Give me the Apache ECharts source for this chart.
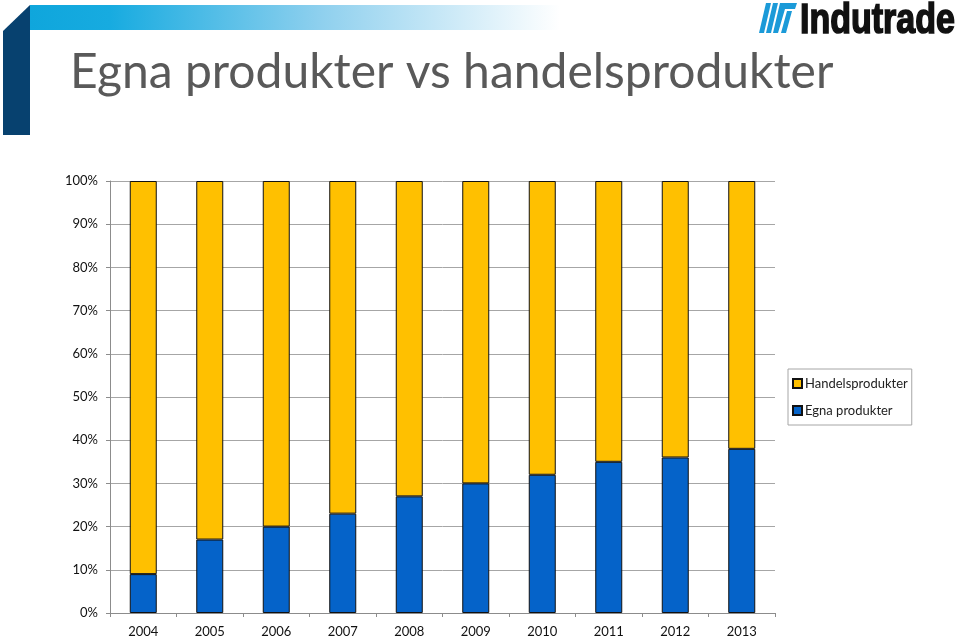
<!DOCTYPE html>
<html>
<head>
<meta charset="utf-8">
<script src="https://cdn.jsdelivr.net/npm/echarts@6/dist/echarts.min.js"></script>
<style>
  html, body { margin: 0; padding: 0; background: #fff; }
  #chart { width: 960px; height: 638px; }
</style>
</head>
<body>
<div id="chart"></div>
<script>
// data
var years = ["2004", "2005", "2006", "2007", "2008", "2009", "2010", "2011", "2012", "2013"];
var egnaProdukter = [9, 17, 20, 23, 27, 30, 32, 35, 36, 38];
var handelsProdukter = [91, 83, 80, 77, 73, 70, 68, 65, 64, 62];
var seriesNames = ["Handelsprodukter", "Egna produkter"];

var labelFont = "Lato, 'Open Sans', sans-serif";

// slide header: blue band, dark corner, title and logo
var header = [
    {
        type: "rect",
        shape: { x: 30, y: 5, width: 530, height: 25 },
        style: {
            fill: {
                type: "linear", x: 0, y: 0, x2: 1, y2: 0,
                colorStops: [
                    { offset: 0, color: "#0fa6dc" },
                    { offset: 0.15, color: "#17abe0" },
                    { offset: 0.55, color: "#8fd0ee" },
                    { offset: 1, color: "#ffffff" }
                ]
            }
        }
    },
    {
        type: "polygon",
        shape: { points: [[3, 31], [30, 5], [30, 135], [3, 135]] },
        style: { fill: "#07416f" }
    },
    {
        type: "text",
        x: 70, y: 49,
        style: {
            text: "Egna produkter vs handelsprodukter",
            font: "48px Lato, 'Open Sans', sans-serif",
            fill: "#595959"
        }
    },
    // logo stripes
    {
        type: "polygon",
        shape: { points: [[766, 3], [771, 3], [764, 33], [759, 33]] },
        style: { fill: "#1b9ad8" }
    },
    {
        type: "polygon",
        shape: { points: [[773, 3], [778, 3], [771, 33], [766, 33]] },
        style: { fill: "#1b9ad8" }
    },
    {
        type: "polygon",
        shape: { points: [[780, 3], [797, 3], [795, 9], [785, 9], [778, 33], [773, 33]] },
        style: { fill: "#1b9ad8" }
    },
    {
        type: "polygon",
        shape: { points: [[787, 11], [792, 11], [786, 33], [781, 33]] },
        style: { fill: "#1b9ad8" }
    },
    {
        type: "text",
        x: 800, y: 0,
        scaleX: 0.81,
        style: {
            text: "Indutrade",
            font: "bold 42px 'Liberation Sans', Arial, sans-serif",
            fill: "#111",
            stroke: "#111",
            lineWidth: 1.6
        }
    }
];

var chart = echarts.init(document.getElementById("chart"));

var option = {
    animation: false,
    backgroundColor: "#fff",
    graphic: header,
    grid: { left: 110, right: 185, top: 181, bottom: 25 },
    legend: {
        data: seriesNames,
        orient: "vertical",
        left: 788, top: 369,
        padding: [8, 4, 8, 4],
        itemGap: 14,
        itemWidth: 9, itemHeight: 9,
        borderColor: "#a6a6a6", borderWidth: 1,
        icon: "rect",
        textStyle: { fontFamily: labelFont, fontSize: 13, color: "#222", padding: [0, 0, 0, -2] }
    },
    xAxis: {
        type: "category",
        data: years,
        axisLine: { lineStyle: { color: "#8c8c8c" } },
        axisTick: { show: true, length: 4, lineStyle: { color: "#8c8c8c" } },
        axisLabel: { fontFamily: labelFont, fontSize: 13, color: "#111", margin: 12 }
    },
    yAxis: {
        type: "value",
        min: 0, max: 100, interval: 10,
        axisLine: { show: true, lineStyle: { color: "#8c8c8c" } },
        axisTick: { show: true, length: 4, lineStyle: { color: "#8c8c8c" } },
        splitLine: { lineStyle: { color: "#a6a6a6" } },
        axisLabel: { formatter: "{value}%", fontFamily: labelFont, fontSize: 13, color: "#111", margin: 12 }
    },
    series: [
        {
            name: "Egna produkter",
            type: "bar",
            stack: "total",
            barWidth: 27,
            data: egnaProdukter,
            itemStyle: { color: "#0563c9", borderColor: "#111", borderWidth: 1 }
        },
        {
            name: "Handelsprodukter",
            type: "bar",
            stack: "total",
            barWidth: 27,
            data: handelsProdukter,
            itemStyle: { color: "#ffc000", borderColor: "#111", borderWidth: 1 }
        }
    ]
};

chart.setOption(option);
</script>
</body>
</html>
